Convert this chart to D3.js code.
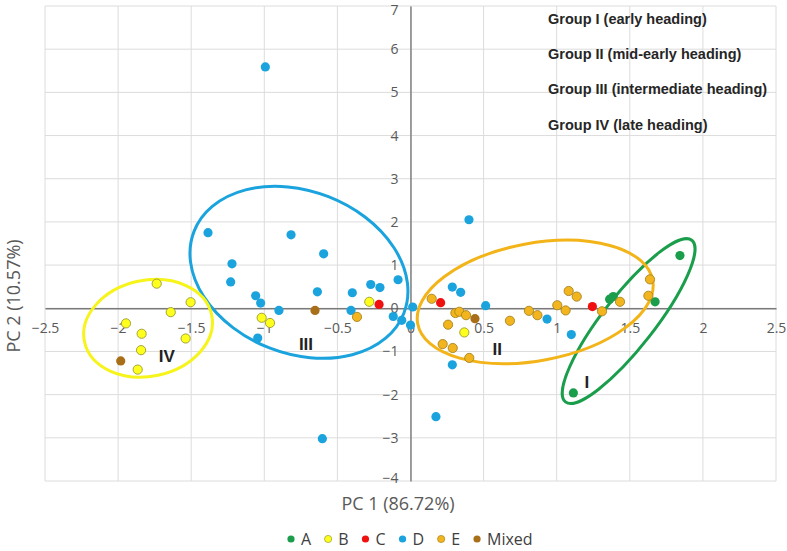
<!DOCTYPE html>
<html><head><meta charset="utf-8">
<script src="https://cdn.jsdelivr.net/npm/d3@7"></script>
<style>body{margin:0;background:#fff}</style>
</head><body><svg id="c" width="787" height="551"></svg>
<script>
// ---- data ----
const seriesNames = ["A", "B", "C", "D", "E", "Mixed"];
const aX = [1.843, 1.362, 1.387, 1.673, 1.114];
const aY = [1.22, 0.21, 0.27, 0.15, -1.96];
const bX = [-1.736, -1.504, -1.64, -1.946, -1.839, -1.538, -1.843, -1.866, -1.018, -0.961, -0.282, 0.368];
const bY = [0.57, 0.14, -0.09, -0.35, -0.59, -0.70, -0.97, -1.42, -0.22, -0.34, 0.15, -0.56];
const cX = [-0.215, 0.206, 1.244];
const cY = [0.09, 0.13, 0.04];
const dX = [-0.993, -1.385, -0.817, -0.594, -1.221, -1.230, -1.059, -1.025, -0.90, -0.637, -0.398, -0.407, -0.272, -0.209, -0.085, 0.015, -0.118, -0.06, 0.0, -1.045, -0.603, 0.40, 0.286, 0.343, 0.514, 0.934, 1.10, 0.286, 0.174];
const dY = [5.59, 1.75, 1.70, 1.26, 1.03, 0.61, 0.29, 0.12, -0.05, 0.38, 0.36, -0.05, 0.55, 0.48, 0.66, 0.03, -0.19, -0.28, -0.39, -0.69, -3.02, 2.05, 0.49, 0.37, 0.06, -0.25, -0.61, -1.31, -2.51];
const eX = [-0.366, 0.145, 0.307, 0.334, 0.38, 0.257, 0.22, 0.289, 0.402, 0.68, 0.81, 0.868, 1.004, 1.061, 1.082, 1.137, 1.31, 1.433, 1.638, 1.627];
const eY = [-0.20, 0.22, -0.11, -0.08, -0.16, -0.38, -0.83, -0.92, -1.15, -0.29, -0.06, -0.16, 0.07, -0.05, 0.40, 0.27, -0.07, 0.15, 0.67, 0.29];
const mX = [-1.982, -0.653, 0.441];
const mY = [-1.22, -0.05, -0.24];
const xTicks = [-2.5, -2, -1.5, -1, -0.5, 0, 0.5, 1, 1.5, 2, 2.5];
const yTicks = [-4, -3, -2, -1, 0, 1, 2, 3, 4, 5, 6, 7];
const groupNotes = ["Group I (early heading)", "Group II (mid-early heading)", "Group III (intermediate heading)", "Group IV (late heading)"];
const clusterNames = ["I", "II", "III", "IV"];
const clusterCX = [1.492, 0.853, -0.763, -1.795];
const clusterCY = [-0.296, 0.146, 0.833, -0.463];
const clusterLabelX = [1.207, 0.594, -0.715, -1.667];
const clusterLabelY = [-1.71, -0.95, -0.833, -1.11];
const xTitle = "PC 1 (86.72%)";
const yTitle = "PC 2 (10.57%)";

// ---- styles ----
const fills = {A: "#1a9e4c", B: "#ffff1e", C: "#f01010", D: "#1ba3de", E: "#f2b51e", Mixed: "#a86e18"};
const strokes = {A: "none", B: "#9a9a30", C: "none", D: "none", E: "#a88320", Mixed: "none"};
const ellipseStyle = [
  {a: 102.6, b: 25.8, rot: -52, color: "#1a9e4c"},
  {a: 119.5, b: 58.7, rot: -10.5, color: "#f3b41a"},
  {a: 112.6, b: 81.2, rot: 21.3, color: "#1ba3de"},
  {a: 65, b: 48, rot: -12, color: "#f6f41a"}
];

const series = [[aX, aY], [bX, bY], [cX, cY], [dX, dY], [eX, eY], [mX, mY]];
const svg = d3.select("#c");
const x = d3.scaleLinear().domain([-2.5, 2.5]).range([45, 776]);
const y = d3.scaleLinear().domain([-4, 7]).range([481, 6]);
const font = "'Open Sans', sans-serif";

// gridlines
svg.append("g").selectAll("line").data(xTicks).join("line")
  .attr("x1", d => x(d)).attr("x2", d => x(d)).attr("y1", y(7)).attr("y2", y(-4))
  .attr("stroke", "#dcdcdc").attr("stroke-width", 1);
svg.append("g").selectAll("line").data(yTicks).join("line")
  .attr("y1", d => y(d)).attr("y2", d => y(d)).attr("x1", x(-2.5)).attr("x2", x(2.5))
  .attr("stroke", "#dcdcdc").attr("stroke-width", 1);

// axes through origin
const xAxis = svg.append("g").attr("transform", `translate(0,${y(0)})`)
  .call(d3.axisBottom(x).tickValues(xTicks).tickSize(0).tickPadding(15).tickFormat(d3.format("")));
const yAxis = svg.append("g").attr("transform", `translate(${x(0)},0)`)
  .call(d3.axisLeft(y).tickValues(yTicks).tickSize(0).tickPadding(12).tickFormat(d3.format("")));
[xAxis, yAxis].forEach(g => {
  g.select(".domain").attr("stroke", "#7a7a7a").attr("stroke-width", 1.4);
  g.selectAll("text").attr("fill", "#595959").style("font-family", font).style("font-size", "14px");
});
yAxis.selectAll(".tick text").filter(d => d === 7).attr("dy", "0.62em");
yAxis.selectAll(".tick text").filter(d => d === -4).attr("dy", "0.1em");

// ellipses
svg.append("g").selectAll("ellipse").data(ellipseStyle).join("ellipse")
  .attr("cx", (d, i) => x(clusterCX[i])).attr("cy", (d, i) => y(clusterCY[i]))
  .attr("rx", d => d.a).attr("ry", d => d.b)
  .attr("transform", (d, i) => `rotate(${d.rot},${x(clusterCX[i])},${y(clusterCY[i])})`)
  .attr("fill", "none").attr("stroke", d => d.color).attr("stroke-width", 3);

// points
series.forEach(([xs, ys], si) => {
  const name = seriesNames[si];
  svg.append("g").selectAll("circle").data(xs.map((v, i) => [v, ys[i]])).join("circle")
    .attr("cx", d => x(d[0])).attr("cy", d => y(d[1])).attr("r", 4.6)
    .attr("fill", fills[name]).attr("stroke", strokes[name]).attr("stroke-width", 0.9);
});

// cluster labels
svg.append("g").selectAll("text").data(clusterNames).join("text")
  .attr("x", (d, i) => x(clusterLabelX[i])).attr("y", (d, i) => y(clusterLabelY[i]))
  .attr("text-anchor", "middle").attr("dominant-baseline", "central")
  .style("font-family", "'Liberation Sans', Arial, sans-serif").style("font-weight", "bold")
  .style("font-size", "17px").attr("fill", "#222").text(d => d);

// group notes
svg.append("g").selectAll("text").data(groupNotes).join("text")
  .attr("x", 548).attr("y", (d, i) => 24 + i * 35.2)
  .style("font-family", "'Liberation Sans', Arial, sans-serif").style("font-weight", "bold")
  .style("font-size", "14.5px").attr("fill", "#262626").text(d => d);

// axis titles
svg.append("text").attr("x", 398).attr("y", 510).attr("text-anchor", "middle")
  .style("font-family", font).style("font-size", "18px").attr("fill", "#595959").text(xTitle);
svg.append("text").attr("transform", "translate(20,296) rotate(-90)").attr("text-anchor", "middle")
  .style("font-family", font).style("font-size", "18px").attr("fill", "#595959").text(yTitle);

// legend
const lg = svg.append("g");
let lx = 291;
seriesNames.forEach(name => {
  lg.append("circle").attr("cx", lx).attr("cy", 539).attr("r", 3.6)
    .attr("fill", fills[name]).attr("stroke", strokes[name]).attr("stroke-width", 0.7);
  const t = lg.append("text").attr("x", lx + 10).attr("y", 545)
    .style("font-family", font).style("font-size", "16px").attr("fill", "#404040").text(name);
  lx += 10 + t.node().getComputedTextLength() + 17;
});
</script></body></html>
